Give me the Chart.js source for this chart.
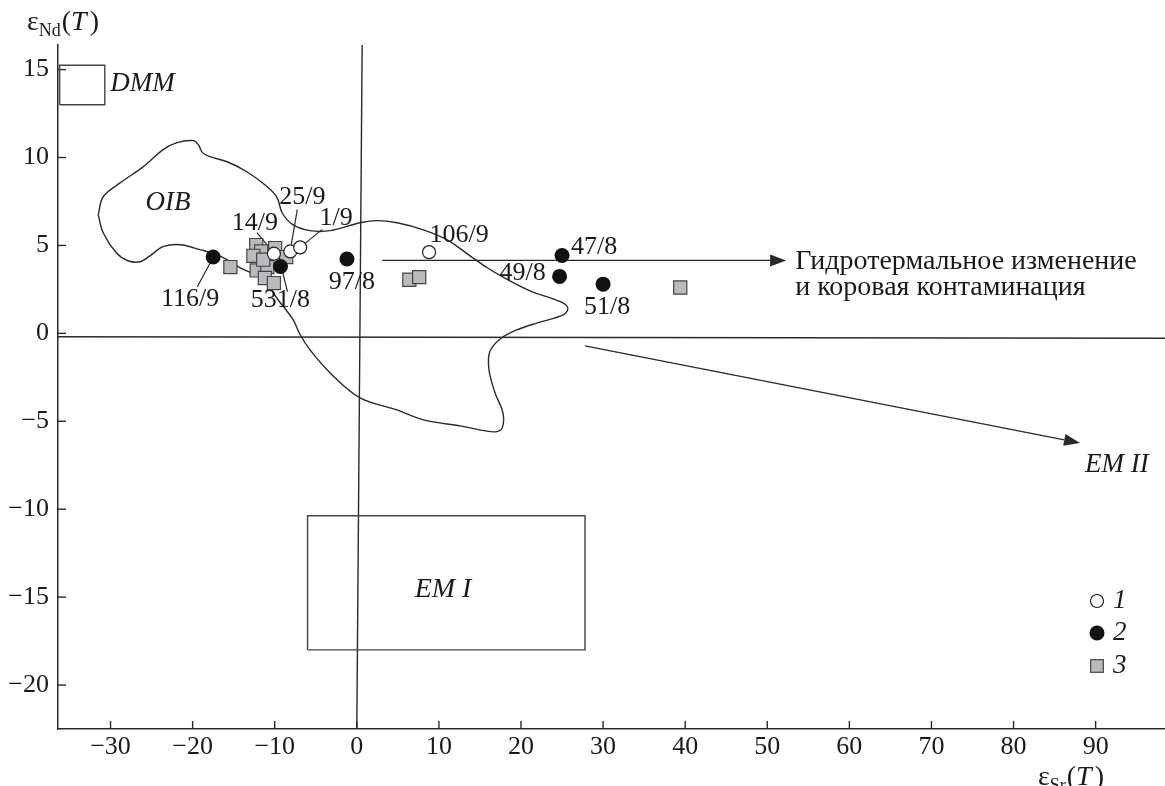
<!DOCTYPE html>
<html>
<head>
<meta charset="utf-8">
<script src="https://cdn.jsdelivr.net/npm/chart.js@4.4.1/dist/chart.umd.min.js"></script>
<style>
  html, body { margin: 0; padding: 0; background: #fff; }
</style>
</head>
<body>
<canvas id="chart" width="1165" height="786"></canvas>
<script>
// ---- data ----
const xTicks = [-30, -20, -10, 0, 10, 20, 30, 40, 50, 60, 70, 80, 90];
const yTicks = [15, 10, 5, 0, -5, -10, -15, -20];

// 1 - open circles
const openPts = [
  { x: -10.1, y: 4.53, name: "14/9" },
  { x: -8.1, y: 4.66, name: "25/9" },
  { x: -6.9, y: 4.89, name: "1/9" },
  { x: 8.8, y: 4.62, name: "106/9" },
];
// 2 - filled circles
const filledPts = [
  { x: -17.5, y: 4.34, name: "116/9" },
  { x: -9.3, y: 3.8, name: "531/8" },
  { x: -1.2, y: 4.23, name: "97/8" },
  { x: 25.0, y: 4.43, name: "47/8" },
  { x: 24.7, y: 3.24, name: "49/8" },
  { x: 30.0, y: 2.8, name: "51/8" },
];
// 3 - grey squares
const squarePts = [
  { x: -15.4, y: 3.77 }, { x: -12.25, y: 5.02 }, { x: -11.65, y: 4.66 },
  { x: -12.6, y: 4.41 }, { x: -9.95, y: 4.85 }, { x: -8.6, y: 4.34 },
  { x: -12.2, y: 3.58 }, { x: -10.9, y: 3.77 }, { x: -11.2, y: 3.15 },
  { x: -10.1, y: 2.86 }, { x: -11.4, y: 4.19 }, { x: 6.4, y: 3.05 },
  { x: 7.6, y: 3.2 }, { x: 39.4, y: 2.61 },
];

// OIB field outline
const oibX = [-31.5, -30.9, -28.8, -26.0, -23.6, -21.9, -19.9, -19.3, -18.8, -17.9, -15.8, -13.4, -10.9, -9.7, -9.1, -7.8, -5.7, -3.25, 0.4, 2.5, 4.9, 8.1, 11.0, 13.8, 15.9, 17.5, 21.1, 24.8, 25.7, 25.2, 22.0, 19.5, 17.5, 16.2, 16.1, 16.8, 17.8, 17.7, 16.8, 12.6, 8.1, 4.9, 0.4, -3.25, -5.7, -6.9, -7.75, -9.6, -11.4, -14.2, -16.7, -19.1, -21.5, -23.6, -25.2, -26.4, -27.9, -29.3, -30.9];
const oibY = [6.75, 7.77, 8.57, 9.48, 10.45, 10.85, 10.96, 10.73, 10.28, 10.05, 9.76, 9.19, 8.34, 7.71, 6.86, 6.18, 5.84, 5.84, 6.29, 6.41, 6.29, 5.89, 5.32, 4.41, 3.73, 3.28, 2.42, 1.8, 1.45, 1.06, 0.6, 0.2, -0.31, -1.05, -2.07, -3.33, -4.52, -5.38, -5.6, -5.26, -4.92, -4.35, -3.67, -2.25, -0.94, -0.08, 0.77, 1.91, 3.05, 3.73, 4.41, 4.76, 5.04, 4.93, 4.41, 4.07, 4.13, 4.58, 5.72];

const dmmBox = { x1: -36.2, x2: -30.7, y1: 13.0, y2: 15.25 };
const em1Box = { x1: -6.0, x2: 27.8, y1: -18.0, y2: -10.37 };
const zeroV = [[0.65, 16.4], [0.0, -22.5]];
const zeroH = [[-36.4, -0.19], [98.5, -0.28]];
const arrowAlt = [[3.1, 4.15], [52.3, 4.15]];
const arrowEM2 = [[27.8, -0.71], [88.1, -6.23]];

const notes = [
  { text: "OIB", x: -23.0, y: 7.43, italic: true, size: 27, align: "center" },
  { text: "DMM", x: -26.1, y: 14.2, italic: true, size: 27, align: "center" },
  { text: "EM I", x: 10.5, y: -14.6, italic: true, size: 28, align: "center" },
  { text: "EM II", x: 88.7, y: -7.48, italic: true, size: 27, align: "left" },
  { text: "Гидротермальное изменение", x: 53.4, y: 4.07, italic: false, size: 28, align: "left" },
  { text: "и коровая контаминация", x: 53.4, y: 2.59, italic: false, size: 28, align: "left" },
];

// label placement (px offsets from the point) and leader lines
const labelOffsets = {
  "116/9": [-23, 42], "531/8": [0, 34], "14/9": [-19, -31], "25/9": [12, -54],
  "1/9": [36, -29], "97/8": [5, 23], "106/9": [30, -17], "47/8": [32, -8],
  "49/8": [-37, -3], "51/8": [4, 23],
};
const leaders = {
  "116/9": [-3, 6, -16, 30], "531/8": [2, 5, 7, 25], "14/9": [-17, -21, -7, -9],
  "25/9": [7, -42, 1, -7], "1/9": [22, -18, 5, -4],
};

const INK = "#2a2a2a";
const SERIF = "'Liberation Serif', 'DejaVu Serif', serif";
const FS = 26;

const fmt = (v) => (v < 0 ? "\u2212" + Math.abs(v) : String(v));
const boxPts = (b) => [
  { x: b.x1, y: b.y1 }, { x: b.x2, y: b.y1 }, { x: b.x2, y: b.y2 },
  { x: b.x1, y: b.y2 }, { x: b.x1, y: b.y1 },
];
const oibPts = oibX.map((x, i) => ({ x, y: oibY[i] }));
oibPts.push(oibPts[0]);

function arrow(ctx, xs, ys, seg) {
  const x1 = xs.getPixelForValue(seg[0][0]), y1 = ys.getPixelForValue(seg[0][1]);
  const x2 = xs.getPixelForValue(seg[1][0]), y2 = ys.getPixelForValue(seg[1][1]);
  const a = Math.atan2(y2 - y1, x2 - x1);
  const len = 16, hw = 6;
  ctx.beginPath();
  ctx.moveTo(x1, y1);
  ctx.lineTo(x2 - len * Math.cos(a), y2 - len * Math.sin(a));
  ctx.stroke();
  ctx.beginPath();
  ctx.moveTo(x2, y2);
  ctx.lineTo(x2 - len * Math.cos(a) - hw * Math.sin(a), y2 - len * Math.sin(a) + hw * Math.cos(a));
  ctx.lineTo(x2 - len * Math.cos(a) + hw * Math.sin(a), y2 - len * Math.sin(a) - hw * Math.cos(a));
  ctx.closePath();
  ctx.fill();
}

function line(ctx, xs, ys, seg) {
  ctx.beginPath();
  ctx.moveTo(xs.getPixelForValue(seg[0][0]), ys.getPixelForValue(seg[0][1]));
  ctx.lineTo(xs.getPixelForValue(seg[1][0]), ys.getPixelForValue(seg[1][1]));
  ctx.stroke();
}

// draws eps_sub(T) style axis titles
function epsTitle(ctx, x, y, sub) {
  const big = 28;
  ctx.textAlign = "left";
  ctx.textBaseline = "alphabetic";
  ctx.font = big + "px " + SERIF;
  ctx.fillText("\u03b5", x, y);
  x += ctx.measureText("\u03b5").width;
  ctx.font = "18px " + SERIF;
  ctx.fillText(sub, x, y + 6);
  x += ctx.measureText(sub).width + 1;
  ctx.font = big + "px " + SERIF;
  ctx.fillText("(", x, y);
  x += ctx.measureText("(").width;
  ctx.font = "italic " + big + "px " + SERIF;
  ctx.fillText("T", x, y);
  x += ctx.measureText("T").width + 3;
  ctx.font = big + "px " + SERIF;
  ctx.fillText(")", x, y);
}

const decor = {
  id: "decor",
  beforeDatasetsDraw(chart) {
    const { ctx, scales: { x: xs, y: ys }, chartArea: ca } = chart;
    ctx.save();
    ctx.strokeStyle = INK;
    ctx.fillStyle = INK;
    ctx.lineWidth = 1.4;
    // inward ticks
    xTicks.forEach((v) => {
      const px = xs.getPixelForValue(v);
      ctx.beginPath(); ctx.moveTo(px, ca.bottom); ctx.lineTo(px, ca.bottom - 8); ctx.stroke();
    });
    yTicks.forEach((v) => {
      const py = ys.getPixelForValue(v);
      ctx.beginPath(); ctx.moveTo(ca.left, py); ctx.lineTo(ca.left + 8, py); ctx.stroke();
    });
    line(ctx, xs, ys, zeroV);
    line(ctx, xs, ys, zeroH);
    ctx.lineWidth = 1.3;
    arrow(ctx, xs, ys, arrowAlt);
    arrow(ctx, xs, ys, arrowEM2);
    // leader lines
    ctx.lineWidth = 1.2;
    [...openPts, ...filledPts].forEach((p) => {
      const l = leaders[p.name];
      if (!l) return;
      const px = xs.getPixelForValue(p.x), py = ys.getPixelForValue(p.y);
      ctx.beginPath(); ctx.moveTo(px + l[0], py + l[1]); ctx.lineTo(px + l[2], py + l[3]); ctx.stroke();
    });
    ctx.restore();
  },
  afterDraw(chart) {
    const { ctx, scales: { x: xs, y: ys }, chartArea: ca } = chart;
    ctx.save();
    ctx.fillStyle = "#1a1a1a";
    ctx.textBaseline = "middle";
    // sample labels
    ctx.font = FS + "px " + SERIF;
    ctx.textAlign = "center";
    [...openPts, ...filledPts].forEach((p) => {
      const o = labelOffsets[p.name];
      if (!o) return;
      ctx.fillText(p.name, xs.getPixelForValue(p.x) + o[0], ys.getPixelForValue(p.y) + o[1]);
    });
    // field names and annotations
    notes.forEach((n) => {
      ctx.font = (n.italic ? "italic " : "") + n.size + "px " + SERIF;
      ctx.textAlign = n.align;
      ctx.fillText(n.text, xs.getPixelForValue(n.x), ys.getPixelForValue(n.y));
    });
    // legend
    const lx = ca.right - 68;
    const ly = [601, 633, 666];
    ctx.lineWidth = 1.2;
    ctx.strokeStyle = "#222";
    ctx.beginPath(); ctx.arc(lx, ly[0], 6.5, 0, Math.PI * 2);
    ctx.fillStyle = "#fff"; ctx.fill(); ctx.stroke();
    ctx.beginPath(); ctx.arc(lx, ly[1], 7.5, 0, Math.PI * 2);
    ctx.fillStyle = "#111"; ctx.fill();
    ctx.fillStyle = "#b9babe";
    ctx.fillRect(lx - 6.3, ly[2] - 6.3, 12.6, 12.6);
    ctx.strokeStyle = "#444";
    ctx.strokeRect(lx - 6.3, ly[2] - 6.3, 12.6, 12.6);
    ctx.fillStyle = "#1a1a1a";
    ctx.font = "italic 27px " + SERIF;
    ctx.textAlign = "left";
    ["1", "2", "3"].forEach((t, i) => ctx.fillText(t, lx + 16, ly[i]));
    // axis titles
    epsTitle(ctx, 27, 30, "Nd");
    epsTitle(ctx, 1038, 785, "Sr");
    ctx.restore();
  },
};

new Chart(document.getElementById("chart"), {
  type: "scatter",
  data: {
    datasets: [
      {
        label: "1",
        data: openPts,
        pointStyle: "circle",
        pointRadius: 6.5,
        backgroundColor: "#fff",
        borderColor: "#222",
        borderWidth: 1.2,
      },
      {
        label: "2",
        data: filledPts,
        pointStyle: "circle",
        pointRadius: 7.5,
        backgroundColor: "#111",
        borderColor: "#111",
        borderWidth: 0,
      },
      {
        label: "3",
        data: squarePts,
        pointStyle: "rect",
        pointRadius: 9.3,
        backgroundColor: "#b9babe",
        borderColor: "#444",
        borderWidth: 1.2,
      },
      {
        label: "OIB",
        data: oibPts,
        showLine: true,
        tension: 0.35,
        pointRadius: 0,
        borderColor: INK,
        borderWidth: 1.4,
        fill: false,
      },
      {
        label: "DMM",
        data: boxPts(dmmBox),
        showLine: true,
        pointRadius: 0,
        borderColor: "#444",
        borderWidth: 1.4,
      },
      {
        label: "EM I",
        data: boxPts(em1Box),
        showLine: true,
        pointRadius: 0,
        borderColor: "#444",
        borderWidth: 1.4,
      },
    ],
  },
  options: {
    responsive: false,
    animation: false,
    events: [],
    layout: { autoPadding: false, padding: { top: 45, right: 0, left: 0, bottom: 0 } },
    plugins: { legend: { display: false }, tooltip: { enabled: false } },
    scales: {
      x: {
        type: "linear",
        min: -36.4,
        max: 98.45,
        afterBuildTicks: (s) => { s.ticks = xTicks.map((v) => ({ value: v })); },
        afterFit: (s) => { s.height = 57; s.paddingLeft = 0; s.paddingRight = 0; },
        grid: { display: false, drawTicks: false },
        border: { display: true, color: INK, width: 1.5 },
        ticks: {
          padding: 3,
          color: "#1a1a1a",
          font: { family: SERIF, size: FS },
          callback: (v) => fmt(v),
          maxRotation: 0,
        },
      },
      y: {
        type: "linear",
        min: -22.5,
        max: 16.4,
        afterBuildTicks: (s) => { s.ticks = yTicks.map((v) => ({ value: v })); },
        afterFit: (s) => { s.width = 58; s.paddingTop = 0; s.paddingBottom = 0; },
        grid: { display: false, drawTicks: false },
        border: { display: true, color: INK, width: 1.5 },
        ticks: {
          padding: 9,
          color: "#1a1a1a",
          font: { family: SERIF, size: FS },
          callback: (v) => fmt(v),
        },
      },
    },
  },
  plugins: [decor],
});
</script>
</body>
</html>
